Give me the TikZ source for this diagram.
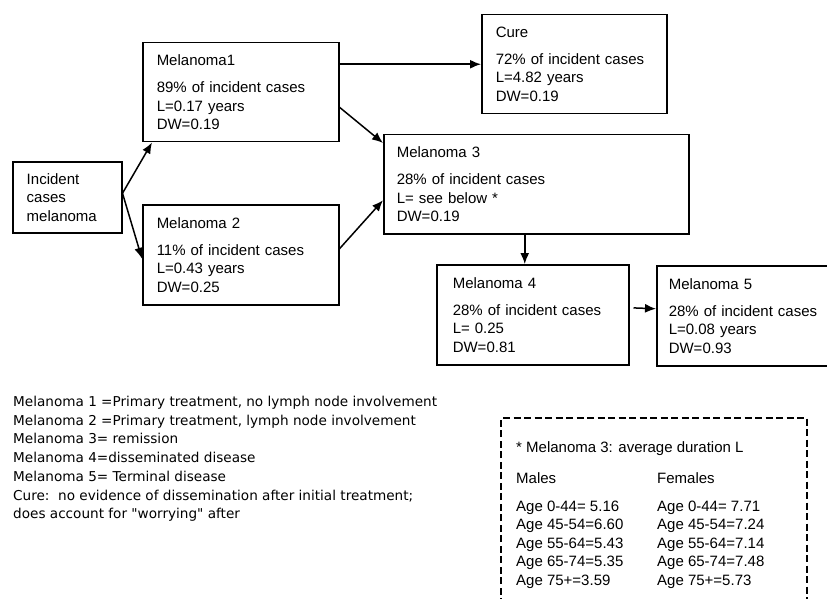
\documentclass[tikz,border=0pt]{standalone}
\usepackage{fontspec}
\usepackage{tikz}
\usetikzlibrary{arrows.meta,positioning}
\newfontfamily\arialfam{Liberation Sans}
\newfontfamily\keyfam{DejaVu Sans}
\newcommand{\stagefont}{\arialfam\fontsize{15}{18.5}\selectfont}
\newcommand{\keyfont}{\keyfam\fontsize{13.6}{18.7}\selectfont}

\begin{document}
\begin{tikzpicture}[x=1pt, y=-1pt, >=Latex,
    stage/.style={draw, line width=1.5pt, anchor=north west, inner xsep=14pt, inner ysep=0pt, minimum height=99pt, align=left, font=\stagefont},
    flow/.style={-{Latex[length=11pt,width=9pt]}, line width=1.5pt},
    notebox/.style={line width=1.3pt, dash pattern=on 7pt off 3.5pt},
    plain/.style={anchor=north west, inner sep=0pt, align=left}]
    \useasboundingbox (0,0) rectangle (827,599);
    \clip (0,0) rectangle (827,599);

    % Stages of the model
    \node[stage, text width=81pt, minimum height=71pt] (inc) at (12,161) {Incident\\cases\\melanoma};
    \node[stage, text width=168pt] (m1) at (142,42) {Melanoma1\\[8.5pt]89\% of incident cases\\L=0.17 years\\DW=0.19};
    \node[stage, text width=157pt] (cure) at (481,14) {Cure\\[8.5pt]72\% of incident cases\\L=4.82 years\\DW=0.19};
    \node[stage, text width=168pt, minimum height=100pt] (m2) at (142,204) {Melanoma 2\\[8.5pt]11\% of incident cases\\L=0.43 years\\DW=0.25};
    \node[stage, inner xsep=13pt, text width=279pt] (m3) at (383,134) {Melanoma 3\\[8.5pt]28\% of incident cases\\L= see below *\\DW=0.19};
    \node[stage, inner xsep=16pt, text width=160pt, minimum height=100pt] (m4) at (436,264) {Melanoma 4\\[8.5pt]28\% of incident cases\\L= 0.25\\DW=0.81};
    \node[stage, inner xsep=12pt, text width=160pt, minimum height=100pt] (m5) at (656,265) {Melanoma 5\\[8.5pt]28\% of incident cases\\L=0.08 years\\DW=0.93};

    % Transitions
    \draw[flow] ([yshift=4pt]inc.east) -- ([xshift=10pt]m1.south west);
    \draw[flow] ([yshift=4pt]inc.east) -- ([yshift=-4pt]m2.west);
    \draw[flow] (m1.east |- cure.west) -- (cure.west);
    \draw[flow] ([yshift=-15pt]m1.east) -- ([yshift=-9pt]m3.north west);
    \draw[flow] ([yshift=6pt]m2.east) -- ([yshift=-16pt]m3.west);
    \coordinate (m4in) at ([xshift=-8pt]m4.north);
    \draw[flow] (m3.south -| m4in) -- (m4in);
    \draw[flow, shorten <=4pt] ([yshift=7pt]m4.east) -- ([yshift=7pt]m5.west);

    % Key to the stages
    \node[plain, font=\keyfont] (key) at (13,396) {Melanoma 1 =Primary treatment, no lymph node involvement\\Melanoma 2 =Primary treatment, lymph node involvement\\Melanoma 3= remission\\Melanoma 4=disseminated disease\\Melanoma 5= Terminal disease\\Cure:\ \ no evidence of dissemination after initial treatment;\\does account for "worrying" after};

    % Duration of Melanoma 3 by age
    \draw[notebox] (501,605) |- (807,418) -- (807,605);
    \node[plain, font=\stagefont] (note) at (516,441) {* Melanoma 3: average duration L};
    \node[plain, font=\stagefont] (males) at (516,472) {Males\\[9.5pt]Age 0-44= 5.16\\Age 45-54=6.60\\Age 55-64=5.43\\Age 65-74=5.35\\Age 75+=3.59};
    \node[plain, font=\stagefont] (females) at (657,472) {Females\\[9.5pt]Age 0-44= 7.71\\Age 45-54=7.24\\Age 55-64=7.14\\Age 65-74=7.48\\Age 75+=5.73};
\end{tikzpicture}
\end{document}
